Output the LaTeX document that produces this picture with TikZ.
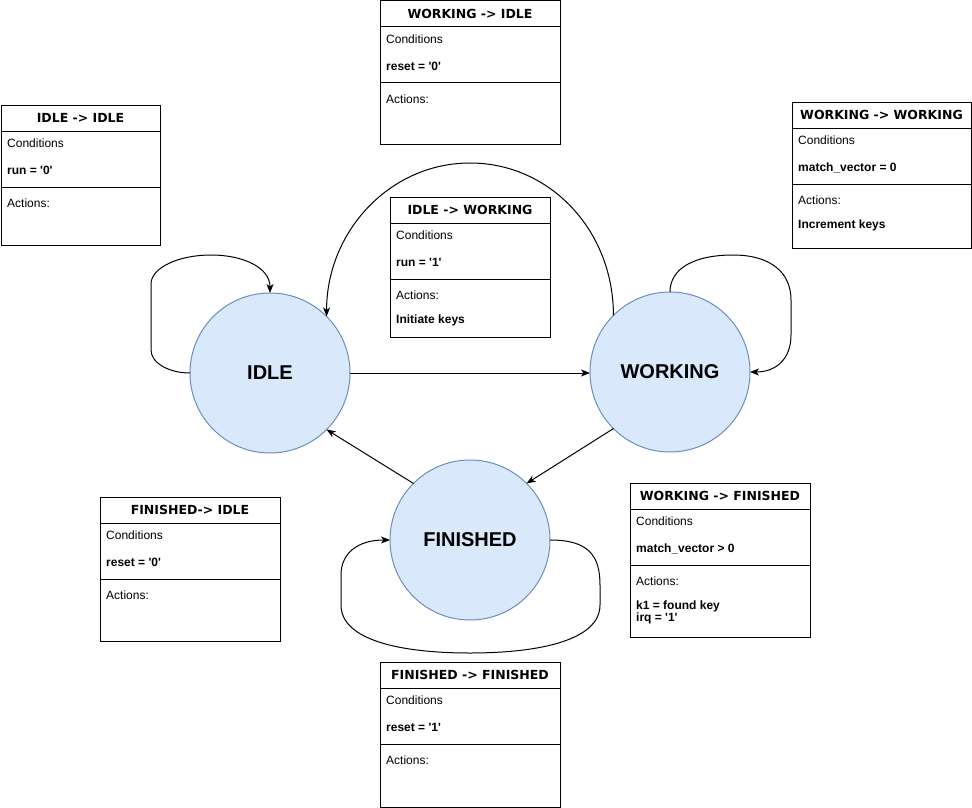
\documentclass[tikz,border=0pt]{standalone}
\usepackage{fontspec}
\newfontfamily\bodyfont{Liberation Sans}
\newfontfamily\titlefont{DejaVu Sans}
\usetikzlibrary{arrows.meta}
\definecolor{stfill}{HTML}{DAE8FC}
\definecolor{stdraw}{HTML}{6C8EBF}
\tikzset{
  statenode/.style={circle, draw=stdraw, fill=stfill, line width=1pt, minimum size=160pt, inner sep=0pt, outer sep=0pt, font=\bodyfont\fontsize{20}{24}\selectfont\bfseries},
  arr/.style={draw=black, line width=1pt, -{Stealth[length=9pt,width=7pt,inset=2.5pt]}},
  boxframe/.style={draw=black, fill=white, line width=1pt, inner sep=0pt, outer sep=0pt, anchor=north west},
  boxline/.style={draw=black, line width=1pt},
  titletext/.style={font=\titlefont\fontsize{12.5}{14}\selectfont\bfseries, inner sep=0pt},
  bodytext/.style={font=\bodyfont\fontsize{12}{14}\selectfont, inner sep=0pt, anchor=base west},
  bodybold/.style={font=\bodyfont\fontsize{12}{14}\selectfont\bfseries, inner sep=0pt, anchor=base west}
}
\newcommand{\q}{\textquotesingle}
% #1 name, #2 left, #3 top, #4 width, #5 height, #6 title, #7 condition, #8 action
\newcommand{\tbox}[8]{%
  \node[boxframe, minimum width=#4pt, minimum height=#5pt] (#1) at (#2,#3) {};
  \draw[boxline] ([yshift=-26pt]#1.north west) -- ([yshift=-26pt]#1.north east);
  \draw[boxline] ([yshift=-82pt]#1.north west) -- ([yshift=-82pt]#1.north east);
  \node[titletext] (#1-t) at ([yshift=-13pt]#1.north) {#6};
  \node[bodytext] (#1-c) at ([xshift=6pt,yshift=-42.5pt]#1.north west) {Conditions};
  \node[bodybold] (#1-v) at ([xshift=6pt,yshift=-69.5pt]#1.north west) {#7};
  \node[bodytext] (#1-a) at ([xshift=6pt,yshift=-102.5pt]#1.north west) {Actions:};
  \node[bodybold] (#1-x) at ([xshift=6pt,yshift=-126.5pt]#1.north west) {#8};
}
\begin{document}
\begin{tikzpicture}[x=1pt,y=-1pt]
\useasboundingbox[fill=white] (0,0) rectangle (972,808);

% states
\node[statenode] (idle) at (270,373) {IDLE};
\node[statenode] (working) at (670,372) {WORKING};
\node[statenode] (finished) at (470,540) {FINISHED};

% straight transitions
\draw[arr] (idle.east) -- (idle.east -| working.west);
\draw[arr] (working.225) -- (finished.45);
\draw[arr] (finished.135) -- (idle.315);

% WORKING -> IDLE arch
\coordinate (archtop) at (470,163);
\draw[arr] (working.135) .. controls ([yshift=85pt]working.135) and ([xshift=80pt]archtop) .. (archtop)
  .. controls ([xshift=-80pt]archtop) and ([yshift=85pt]idle.45) .. (idle.45);

% self loops
\draw[arr] (idle.west) .. controls (169,373) and (151,363) .. (151,350) -- (151,284)
  .. controls (151,268) and (178,255) .. (211,255)
  .. controls (244,255) and (270,268) .. (idle.north);
\draw[arr] (working.north) .. controls (670,268) and (695,255) .. (733,255)
  .. controls (770,255) and (791,272) .. (791,300) -- (791,335)
  .. controls (791,360) and (775,372) .. (working.east);
\draw[arr] (finished.east) .. controls (588,540) and (600,555) .. (600,585) -- (600,605)
  .. controls (600,640) and (540,653) .. (470,653)
  .. controls (400,653) and (341,640) .. (341,605) -- (341,575)
  .. controls (341,553) and (358,540) .. (finished.west);

% transition boxes
\tbox{bii}{1}{105}{159}{140}{IDLE -> IDLE}{run = \q0\q}{}
\tbox{bwi}{380}{1}{180}{143}{WORKING -> IDLE}{reset = \q0\q}{}
\tbox{biw}{390}{197}{160}{140}{IDLE -> WORKING}{run = \q1\q}{Initiate keys}
\tbox{bww}{792}{102}{179}{146}{WORKING -> WORKING}{match\_vector = 0}{Increment keys}
\tbox{bfi}{100}{497}{180}{144}{FINISHED-> IDLE}{reset = \q0\q}{}
\tbox{bwf}{630}{483}{180}{154}{WORKING -> FINISHED}{match\_vector > 0}{k1 = found key}
\node[bodybold] (bwf-y) at ([xshift=6pt,yshift=-138.5pt]bwf.north west) {irq = \q1\q};
\tbox{bff}{380}{662}{180}{145}{FINISHED -> FINISHED}{reset = \q1\q}{}
\end{tikzpicture}
\end{document}
